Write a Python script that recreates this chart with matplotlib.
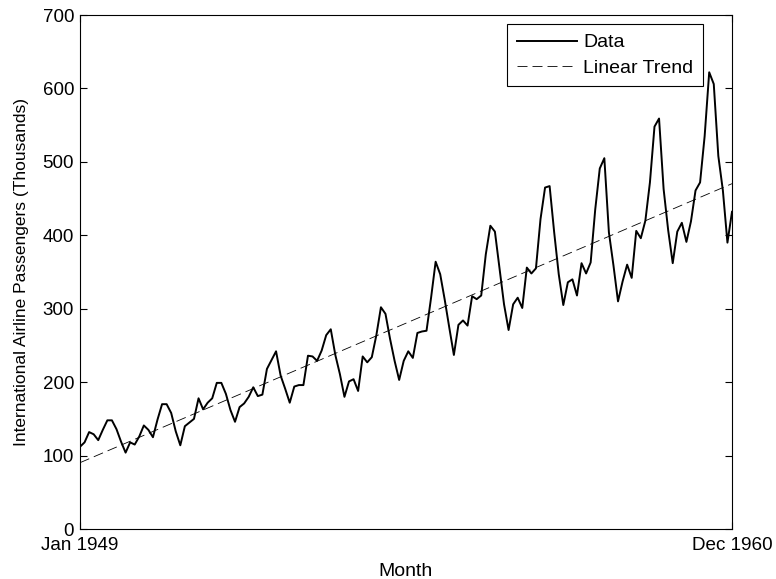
import numpy as np
import matplotlib
matplotlib.use("Agg")
import matplotlib.pyplot as plt

plt.rcParams['font.family'] = ['Liberation Sans', 'DejaVu Sans']

passengers = [
    112, 118, 132, 129, 121, 135, 148, 148, 136, 119, 104, 118,
    115, 126, 141, 135, 125, 149, 170, 170, 158, 133, 114, 140,
    145, 150, 178, 163, 172, 178, 199, 199, 184, 162, 146, 166,
    171, 180, 193, 181, 183, 218, 230, 242, 209, 191, 172, 194,
    196, 196, 236, 235, 229, 243, 264, 272, 237, 211, 180, 201,
    204, 188, 235, 227, 234, 264, 302, 293, 259, 229, 203, 229,
    242, 233, 267, 269, 270, 315, 364, 347, 312, 274, 237, 278,
    284, 277, 317, 313, 318, 374, 413, 405, 355, 306, 271, 306,
    315, 301, 356, 348, 355, 422, 465, 467, 404, 347, 305, 336,
    340, 318, 362, 348, 363, 435, 491, 505, 404, 359, 310, 337,
    360, 342, 406, 396, 420, 472, 548, 559, 463, 407, 362, 405,
    417, 391, 419, 461, 472, 535, 622, 606, 508, 461, 390, 432,
]
x_tick_labels = ["Jan 1949", "Dec 1960"]
y_ticks = [0, 100, 200, 300, 400, 500, 600, 700]

t = np.arange(1, len(passengers) + 1)
y = np.array(passengers, dtype=float)
coef = np.polyfit(t, y, 1)
trend = np.polyval(coef, t)

W, H = 776, 579
fig = plt.figure(figsize=(W/100, H/100), dpi=100)
ax = fig.add_axes([80/W, 1-529/H, (732-80)/W, (529-15)/H])

ax.plot(t, y, color='black', lw=1.4, label='Data')
ax.plot(t, trend, color='black', lw=0.6, ls=(0, (12, 6)), label='Linear Trend')

ax.set_xlim(t[0], t[-1])
ax.set_ylim(0, 700)
ax.set_xticks([t[0], t[-1]])
ax.set_xticklabels(x_tick_labels)
ax.set_yticks(y_ticks)
ax.tick_params(direction='in', length=5, top=True, right=True, width=0.8)
ax.tick_params(axis='x', labelsize=13.6, pad=5.5)
ax.tick_params(axis='y', labelsize=13.5, pad=4.3)
for s in ax.spines.values():
    s.set_linewidth(0.8)

ax.set_xlabel('Month', fontsize=14, labelpad=7)
ax.set_ylabel('International Airline Passengers (Thousands)', fontsize=12.5, labelpad=10)

leg = ax.legend(loc='upper right', bbox_to_anchor=(703/W, 1-24/H),
                bbox_transform=fig.transFigure, borderaxespad=0,
                fontsize=14, fancybox=False, framealpha=1,
                edgecolor='black', handlelength=3.1,
                handletextpad=0.3, borderpad=0.5, labelspacing=0.4)
leg.get_frame().set_linewidth(0.8)

fig.savefig('out.png', dpi=100)
